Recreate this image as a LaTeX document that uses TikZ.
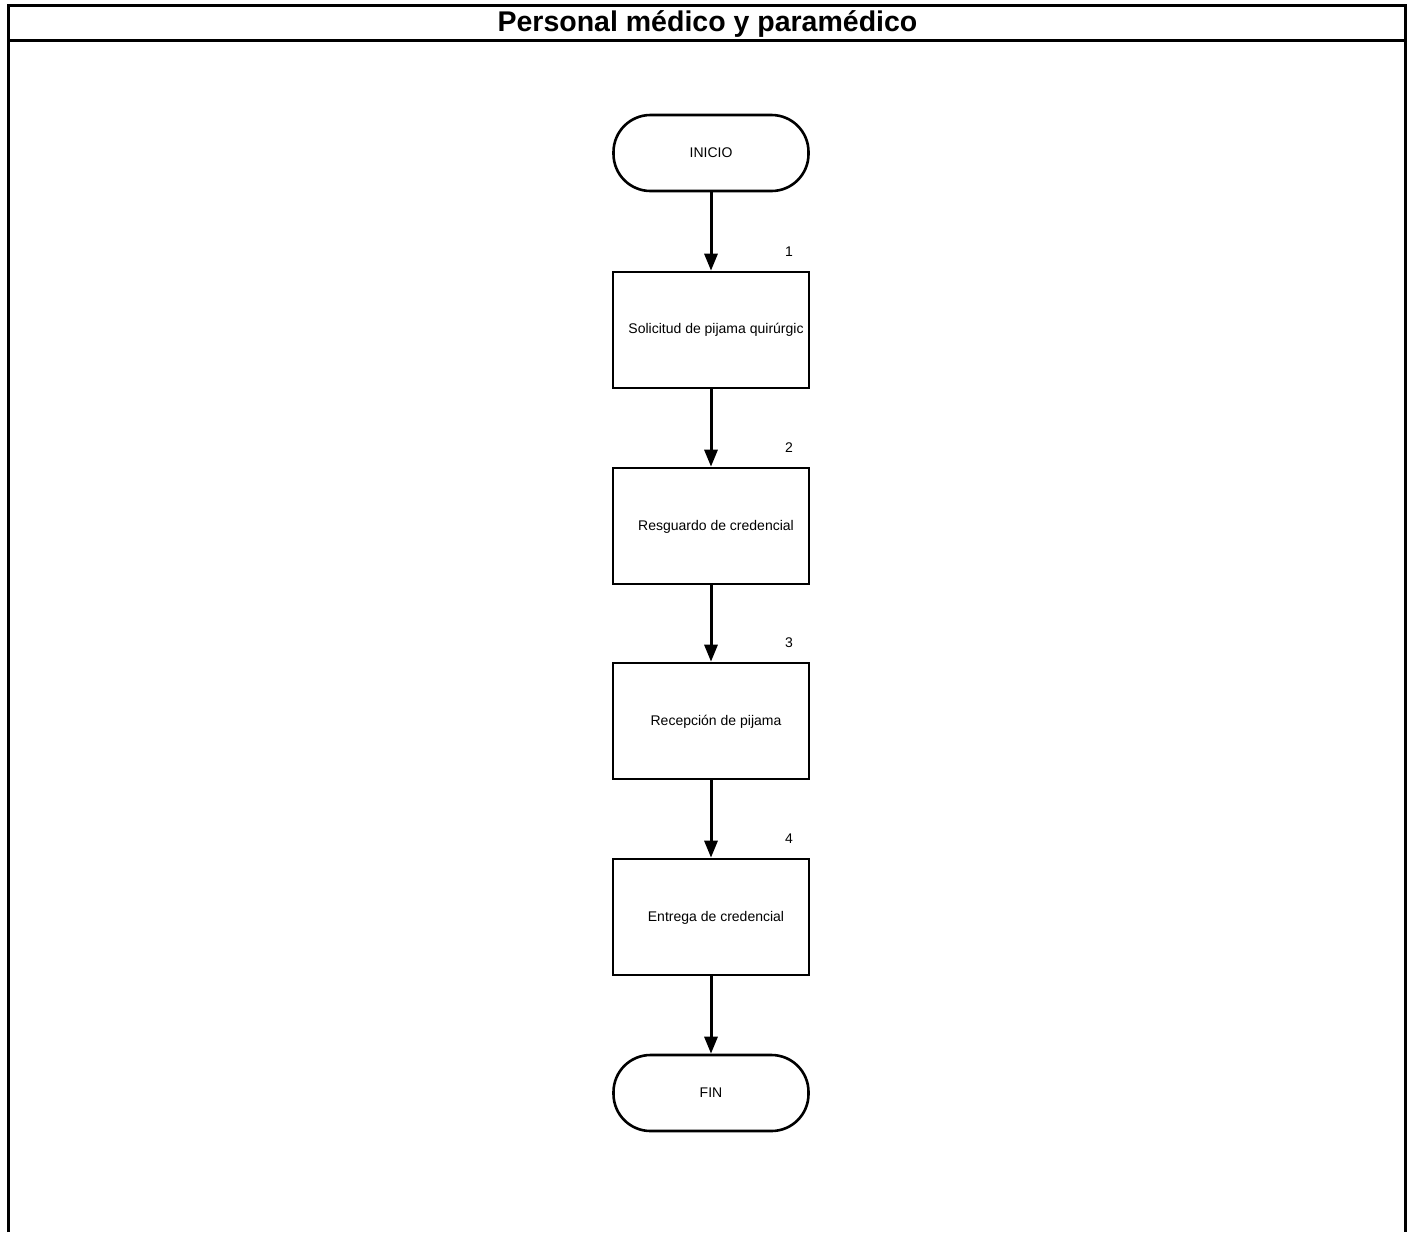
\documentclass[tikz,border=0pt]{standalone}
\usepackage{fontspec}
\setmainfont{Liberation Sans}
\usetikzlibrary{arrows.meta}
\begin{document}
\begin{tikzpicture}[x=1pt,y=-1pt,
  frame/.style={line width=3pt},
  procbox/.style={draw,line width=2.6pt,minimum width=196pt,minimum height=116pt,inner sep=0pt},
  term/.style={draw,line width=2.6pt,rounded corners=37pt,minimum width=195pt,minimum height=76pt,inner sep=0pt,font=\fontsize{14}{16}\selectfont},
  boxtxt/.style={font=\fontsize{14}{16}\selectfont,inner sep=0pt},
  numlbl/.style={font=\fontsize{14}{16}\selectfont,inner sep=0pt},
  flow/.style={line width=3pt,-{Triangle[length=17pt,width=13pt]}}]
\useasboundingbox (0,0) rectangle (1412,1232);
% frame
\draw[frame] (8.5,1232) -- (8.5,5) -- (1405,5) -- (1405,1232);
\draw[frame] (8.5,40.5) -- (1405,40.5);
\node[font=\bfseries\fontsize{28.5}{32}\selectfont,inner sep=0pt] (title) at (707.5,24) {Personal médico y paramédico};
% nodes
\node[term] (ini) at (711,153) {INICIO};
\node[procbox] (p1) at (711,330) {};
\node[procbox] (p2) at (711,526) {};
\node[procbox] (p3) at (711,721) {};
\node[procbox] (p4) at (711,917) {};
\node[term] (fin) at (711,1093) {FIN};
\node[boxtxt] (t1) at (716,330) {Solicitud de pijama quirúrgic};
\node[boxtxt] (t2) at (716,527) {Resguardo de credencial};
\node[boxtxt] (t3) at (716,722) {Recepción de pijama};
\node[boxtxt] (t4) at (716,918) {Entrega de credencial};
\node[numlbl] (n1) at (789,252) {1};
\node[numlbl] (n2) at (789,448) {2};
\node[numlbl] (n3) at (789,643) {3};
\node[numlbl] (n4) at (789,839) {4};
% connectors
\draw[flow] (ini.south) -- (p1.north);
\draw[flow] (p1.south) -- (p2.north);
\draw[flow] (p2.south) -- (p3.north);
\draw[flow] (p3.south) -- (p4.north);
\draw[flow] (p4.south) -- (fin.north);
\end{tikzpicture}
\end{document}
